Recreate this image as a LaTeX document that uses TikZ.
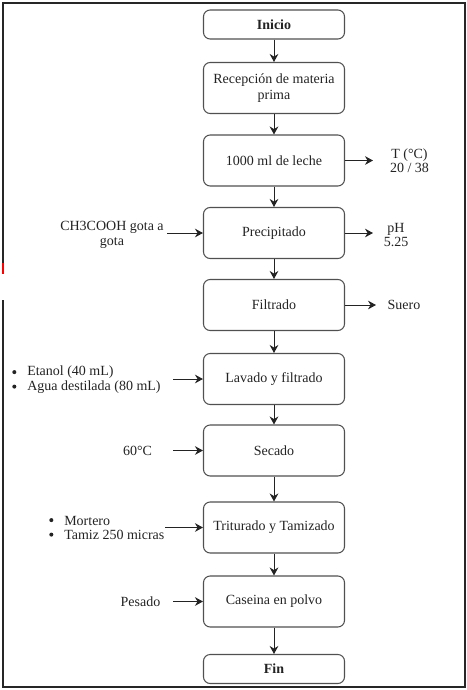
\documentclass[tikz,border=0pt]{standalone}
\usepackage{fontspec}
\setmainfont{Liberation Serif}
\usepackage{tikz}
\usetikzlibrary{arrows.meta}
\definecolor{tinta}{RGB}{35, 35, 35}
\definecolor{borde}{RGB}{80, 80, 80}

\begin{document}
\begin{tikzpicture}[x=0.75pt, y=-0.75pt,
    proceso/.style={draw=borde, line width=0.8pt, rounded corners=5pt, text=tinta,
        minimum width=105.75pt, minimum height=38.25pt, align=center,
        font=\fontsize{10.5}{12}\selectfont},
    terminal/.style={proceso, minimum height=21.75pt, font=\fontsize{10.5}{12}\selectfont\bfseries},
    etiqueta/.style={text=tinta, align=center, inner sep=0pt, font=\fontsize{10.5}{10.8}\selectfont},
    item/.style={etiqueta, anchor=west},
    flecha/.style={draw=tinta, line width=0.75pt, -{Stealth[length=6pt, width=6.5pt]}}]
    \useasboundingbox (0,0) rectangle (467,690);
    \draw[black!85, line width=1.1pt] (3,263) -- (3,3) -- (465,3) -- (465,687) -- (3,687) -- (3,300);
    \draw[red, line width=1.1pt] (3,263) -- (3,274);
    % etapas del proceso
    \node[terminal] (inicio) at (274,24.5) {Inicio};
    \node[proceso] (recep) at (274,88) {Recepción de materia\\prima};
    \node[proceso] (leche) at (274,160.5) {1000 ml de leche};
    \node[proceso] (precip) at (274,233) {Precipitado};
    \node[proceso] (filtrado) at (274,305) {Filtrado};
    \node[proceso] (lavado) at (274,379) {Lavado y filtrado};
    \node[proceso] (secado) at (274,450.5) {Secado};
    \node[proceso] (triturado) at (274,527.5) {Triturado y Tamizado};
    \node[proceso] (caseina) at (274,601.5) {Caseina en polvo};
    \node[terminal] (fin) at (274,669) {Fin};
    \foreach \a/\b in {inicio/recep, recep/leche, leche/precip, precip/filtrado, filtrado/lavado,
        lavado/secado, secado/triturado, triturado/caseina, caseina/fin}
        \draw[flecha] (\a) -- (\b);
    % salidas
    \node[etiqueta] (temp) at (409.5,161) {T (°C)\\20 / 38};
    \node[etiqueta] (ph) at (396,235) {pH\\5.25};
    \node[etiqueta] (suero) at (404,305) {Suero};
    \coordinate (temp-in) at (373,160.5);
    \coordinate (ph-in) at (373,233);
    \coordinate (suero-in) at (376,305);
    \draw[flecha] (leche) -- (temp-in);
    \draw[flecha] (precip) -- (ph-in);
    \draw[flecha] (filtrado) -- (suero-in);
    % entradas
    \node[etiqueta] (acido) at (112,235) {CH3COOH gota a\\gota};
    \node[item] (etanol) at (27,372.5) {Etanol (40 mL)};
    \node[item] (agua) at (27,387) {Agua destilada (80 mL)};
    \node[etiqueta] (temp-sec) at (137.5,450.5) {60°C};
    \node[item] (mortero) at (64,520.5) {Mortero};
    \node[item] (tamiz) at (64,535) {Tamiz 250 micras};
    \node[etiqueta] (pesado) at (140.5,601.5) {Pesado};
    \foreach \p in {etanol, agua, mortero, tamiz}
        \fill[tinta] ([xshift=-9.5pt, yshift=0.3pt]\p.west) circle (1.5pt);
    \coordinate (acido-out) at (167,233);
    \coordinate (solventes-out) at (173,379);
    \coordinate (temp-sec-out) at (173,450.5);
    \coordinate (equipos-out) at (165,527.5);
    \coordinate (pesado-out) at (173,601.5);
    \draw[flecha] (acido-out) -- (precip);
    \draw[flecha] (solventes-out) -- (lavado);
    \draw[flecha] (temp-sec-out) -- (secado);
    \draw[flecha] (equipos-out) -- (triturado);
    \draw[flecha] (pesado-out) -- (caseina);
\end{tikzpicture}
\end{document}
